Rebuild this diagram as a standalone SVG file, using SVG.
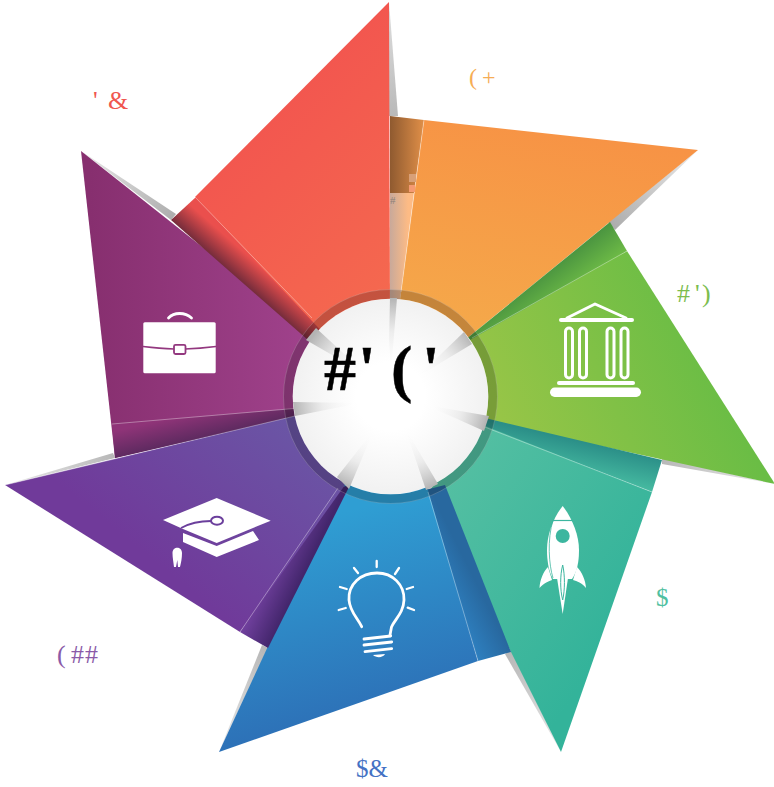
<svg xmlns="http://www.w3.org/2000/svg" width="774" height="787" viewBox="0 0 774 787">
<style>
.lbl{font-family:"Liberation Serif","Times New Roman",serif;white-space:pre}
.hl{stroke:#fff;stroke-opacity:.45;stroke-width:.8;fill:none}
.ic{fill:#fff}
.is{fill:none;stroke:#fff;stroke-linecap:round;stroke-linejoin:round}
.a{stop-color:#b4b4b4}
.m{stop-color:#e8e8e8;stop-opacity:.75}
.z{stop-color:#fff;stop-opacity:0}
</style>
<defs>
<linearGradient id="gRed" gradientUnits="userSpaceOnUse" x1="200" y1="120" x2="400" y2="330"><stop offset="0" stop-color="#f2534f"/><stop offset="1" stop-color="#f56b4f"/></linearGradient>
<linearGradient id="gOra" gradientUnits="userSpaceOnUse" x1="520" y1="120" x2="480" y2="330"><stop offset="0" stop-color="#f79345"/><stop offset="1" stop-color="#f5a84a"/></linearGradient>
<linearGradient id="gGre" gradientUnits="userSpaceOnUse" x1="700" y1="330" x2="500" y2="420"><stop offset="0" stop-color="#6abd45"/><stop offset="1" stop-color="#97c547"/></linearGradient>
<linearGradient id="gTea" gradientUnits="userSpaceOnUse" x1="450" y1="470" x2="640" y2="600"><stop offset="0" stop-color="#54bfa2"/><stop offset="1" stop-color="#33b39a"/></linearGradient>
<linearGradient id="gBlu" gradientUnits="userSpaceOnUse" x1="350" y1="510" x2="400" y2="700"><stop offset="0" stop-color="#2f9ed3"/><stop offset="1" stop-color="#2d72b8"/></linearGradient>
<linearGradient id="gInd" gradientUnits="userSpaceOnUse" x1="320" y1="430" x2="190" y2="590"><stop offset="0" stop-color="#6a57a6"/><stop offset="1" stop-color="#703a9a"/></linearGradient>
<linearGradient id="gMag" gradientUnits="userSpaceOnUse" x1="90" y1="300" x2="310" y2="300"><stop offset="0" stop-color="#872f6f"/><stop offset="1" stop-color="#a0428c"/></linearGradient>
<linearGradient id="fRed" gradientUnits="userSpaceOnUse" x1="171" y1="222" x2="192" y2="198"><stop offset="0" stop-color="#6e2a3a"/><stop offset=".8" stop-color="#ea4f4d"/></linearGradient>
<linearGradient id="fOra" gradientUnits="userSpaceOnUse" x1="390" y1="150" x2="424" y2="150"><stop offset="0" stop-color="#8f5a30"/><stop offset="1" stop-color="#e08f48"/></linearGradient>
<linearGradient id="fPea" gradientUnits="userSpaceOnUse" x1="390" y1="240" x2="408" y2="240"><stop offset="0" stop-color="#c9a99a"/><stop offset="1" stop-color="#fdbb85"/></linearGradient>
<linearGradient id="fGre" gradientUnits="userSpaceOnUse" x1="610" y1="222" x2="629" y2="247"><stop offset="0" stop-color="#4a9440"/><stop offset="1" stop-color="#6cb946"/></linearGradient>
<linearGradient id="fTea" gradientUnits="userSpaceOnUse" x1="662" y1="459" x2="655" y2="491"><stop offset="0" stop-color="#2b8f88"/><stop offset="1" stop-color="#45b9a0"/></linearGradient>
<linearGradient id="fBlu" gradientUnits="userSpaceOnUse" x1="511" y1="652" x2="481" y2="667"><stop offset="0" stop-color="#28689f"/><stop offset="1" stop-color="#2e80c0"/></linearGradient>
<linearGradient id="fInd" gradientUnits="userSpaceOnUse" x1="268" y1="648" x2="241" y2="635"><stop offset="0" stop-color="#43266c"/><stop offset="1" stop-color="#6f3f9c"/></linearGradient>
<linearGradient id="fMag" gradientUnits="userSpaceOnUse" x1="115" y1="458" x2="107" y2="424"><stop offset="0" stop-color="#5e2a60"/><stop offset=".75" stop-color="#8f3478"/></linearGradient>
<linearGradient id="e1" gradientUnits="userSpaceOnUse" x1="390" y1="2" x2="390" y2="116"><stop offset="0" stop-color="#ccc"/><stop offset="1" stop-color="#8a8a8a"/></linearGradient>
<linearGradient id="e2" gradientUnits="userSpaceOnUse" x1="698" y1="150" x2="612" y2="225"><stop offset="0" stop-color="#ddd"/><stop offset="1" stop-color="#777"/></linearGradient>
<linearGradient id="e3" gradientUnits="userSpaceOnUse" x1="775" y1="484" x2="662" y2="460"><stop offset="0" stop-color="#ddd"/><stop offset="1" stop-color="#888"/></linearGradient>
<linearGradient id="e4" gradientUnits="userSpaceOnUse" x1="561" y1="752" x2="511" y2="652"><stop offset="0" stop-color="#ddd"/><stop offset="1" stop-color="#888"/></linearGradient>
<linearGradient id="e5" gradientUnits="userSpaceOnUse" x1="219" y1="752" x2="268" y2="648"><stop offset="0" stop-color="#ddd"/><stop offset="1" stop-color="#888"/></linearGradient>
<linearGradient id="e6" gradientUnits="userSpaceOnUse" x1="5" y1="485" x2="115" y2="458"><stop offset="0" stop-color="#ddd"/><stop offset="1" stop-color="#888"/></linearGradient>
<linearGradient id="e7" gradientUnits="userSpaceOnUse" x1="81" y1="151" x2="171" y2="220"><stop offset="0" stop-color="#ddd"/><stop offset="1" stop-color="#777"/></linearGradient>
<linearGradient id="st1" gradientUnits="userSpaceOnUse" x1="390" y1="298" x2="390" y2="372"><stop offset="0" class="a"/><stop offset=".45" class="m"/><stop offset="1" class="z"/></linearGradient>
<linearGradient id="st2" gradientUnits="userSpaceOnUse" x1="470" y1="337" x2="418" y2="376"><stop offset="0" class="a"/><stop offset=".45" class="m"/><stop offset="1" class="z"/></linearGradient>
<linearGradient id="st3" gradientUnits="userSpaceOnUse" x1="486" y1="424" x2="428" y2="406"><stop offset="0" class="a"/><stop offset=".45" class="m"/><stop offset="1" class="z"/></linearGradient>
<linearGradient id="st4" gradientUnits="userSpaceOnUse" x1="433" y1="487" x2="407" y2="430"><stop offset="0" class="a"/><stop offset=".45" class="m"/><stop offset="1" class="z"/></linearGradient>
<linearGradient id="st5" gradientUnits="userSpaceOnUse" x1="345" y1="486" x2="372" y2="432"><stop offset="0" class="a"/><stop offset=".45" class="m"/><stop offset="1" class="z"/></linearGradient>
<linearGradient id="st6" gradientUnits="userSpaceOnUse" x1="294" y1="412" x2="358" y2="403"><stop offset="0" class="a"/><stop offset=".45" class="m"/><stop offset="1" class="z"/></linearGradient>
<linearGradient id="st7" gradientUnits="userSpaceOnUse" x1="313" y1="336" x2="366" y2="375"><stop offset="0" class="a"/><stop offset=".45" class="m"/><stop offset="1" class="z"/></linearGradient>
<radialGradient id="disc" gradientUnits="userSpaceOnUse" cx="390.5" cy="396.5" r="98"><stop offset=".35" stop-color="#fff"/><stop offset="1" stop-color="#f1f1f1"/></radialGradient>
</defs>

<g id="edge-shadows" opacity=".6">
<polygon points="389,2 398,116 389,116" fill="url(#e1)"/>
<polygon points="698,150 608,222 615,230" fill="url(#e2)"/>
<polygon points="775,484 662,458 662,464" fill="url(#e3)"/>
<polygon points="561,752 511,650 505,654" fill="url(#e4)"/>
<polygon points="219,752 268,648 262,645" fill="url(#e5)"/>
<polygon points="5,485 115,458 113,453" fill="url(#e6)"/>
<polygon points="81,151 171,220 176,214" fill="url(#e7)"/>
</g>

<g id="blade-magenta">
<polygon points="81,151 320,340 300,415 115,458" fill="url(#gMag)"/>
<polygon points="112,424 300,408 300,416 115,458" fill="url(#fMag)"/>
<line class="hl" x1="112" y1="424" x2="300" y2="408"/>
</g>
<g id="blade-red">
<polygon points="171,220 196,197 330,330 308,340" fill="url(#fRed)"/>
<polygon points="389,2 390,310 330,340 195,197" fill="url(#gRed)"/>
<line class="hl" x1="195" y1="197" x2="312" y2="318"/>
</g>
<g id="blade-orange">
<polygon points="390,116 424,120 414,193 390,193" fill="url(#fOra)"/>
<polygon points="390,193 414,193 400,300 390,300" fill="url(#fPea)"/>
<polygon points="424,120 698,150 465,340 400,300" fill="url(#gOra)"/>
<line class="hl" x1="424" y1="120" x2="401" y2="292"/>
<rect x="409" y="174" width="7" height="8" fill="#d8a078"/>
<rect x="409" y="185" width="6" height="7" fill="#f59a72"/>
<text class="lbl" x="390" y="204" font-size="11" fill="#8c8078">#</text>
</g>
<g id="blade-green">
<polygon points="610,222 627,251 490,340 465,340" fill="url(#fGre)"/>
<polygon points="627,251 775,484 480,420 470,340" fill="url(#gGre)"/>
<line class="hl" x1="627" y1="251" x2="472" y2="338"/>
</g>
<g id="blade-teal">
<polygon points="662,460 652,492 480,425 485,418" fill="url(#fTea)"/>
<polygon points="652,492 561,752 430,490 480,424" fill="url(#gTea)"/>
<line class="hl" x1="652" y1="492" x2="482" y2="426"/>
</g>
<g id="blade-blue">
<polygon points="511,652 478,661 425,490 445,485" fill="url(#fBlu)"/>
<polygon points="478,661 219,752 345,480 425,480" fill="url(#gBlu)"/>
<line class="hl" x1="478" y1="661" x2="428" y2="492"/>
</g>
<g id="blade-indigo">
<polygon points="268,648 240,632 330,490 350,485" fill="url(#fInd)"/>
<polygon points="5,485 295,416 345,485 240,632" fill="url(#gInd)"/>
<line class="hl" x1="240" y1="632" x2="338" y2="488"/>
<line class="hl" x1="5" y1="485" x2="295" y2="416"/>
</g>

<g id="center">
<circle cx="390.5" cy="396.5" r="102.5" fill="none" stroke="#000" stroke-opacity=".2" stroke-width="9.500"/>
<circle cx="390.5" cy="396.5" r="107" fill="none" stroke="#fff" stroke-opacity=".3" stroke-width=".6"/>
<circle cx="390.5" cy="396.5" r="97.8" fill="url(#disc)"/>
<polygon points="390,298 397,298 391,372 389,340" fill="url(#st1)"/>
<polygon points="464,332 472,344 417,377" fill="url(#st2)"/>
<polygon points="489,416 484,431 426,405" fill="url(#st3)"/>
<polygon points="426,490 438,484 405,428" fill="url(#st4)"/>
<polygon points="337,477 349,489 374,430" fill="url(#st5)"/>
<polygon points="293,402 295,416 361,403" fill="url(#st6)"/>
<polygon points="306,340 316,328 367,375" fill="url(#st7)"/>
<text class="lbl" x="324 358 378 391 410 422" y="390" font-size="64" font-weight="bold" fill="#000" stroke="#000" stroke-width=".5">#' ( '</text>
</g>

<g id="icon-bank">
<polyline class="is" points="567,318 595,304 626,318" stroke-width="3"/>
<line class="is" x1="561" y1="320" x2="632" y2="320" stroke-width="4"/>
<rect class="is" x="565.5" y="328" width="7" height="50" rx="3.5" stroke-width="3"/>
<rect class="is" x="579.5" y="328" width="7" height="50" rx="3.5" stroke-width="3"/>
<rect class="is" x="607" y="328" width="7" height="50" rx="3.5" stroke-width="3"/>
<rect class="is" x="621" y="328" width="7" height="50" rx="3.5" stroke-width="3"/>
<line class="is" x1="559" y1="383" x2="633" y2="383" stroke-width="4"/>
<rect class="ic" x="550" y="387.500" width="91" height="9.500" rx="4.700"/>
</g>
<g id="icon-rocket">
<path class="ic" d="M562.700,506C553,518 547,535 547,550C547,562 549,572 553,579L572,579C577,572 579,562 579,550C579,535 572,518 562.700,506Z"/>
<path class="ic" d="M548,567C543,572 540,580 539.500,588C544,583 549,581 552,580ZM577,567C582,572 585.500,580 586,588C582,583 577,581 573,580Z"/>
<path class="ic" d="M557,578L562.700,614L568,578Z"/>
<line x1="553" y1="520.500" x2="573" y2="520.500" stroke="#3cb69f" stroke-width="1.200"/>
<circle cx="562.700" cy="536" r="7" fill="#3cb69f"/>
<path d="M553,520C547,540 549,565 553,578" fill="none" stroke="#3cb69f" stroke-width=".8"/>
<path d="M562.700,565C560,575 560,590 562.700,600C565,590 565,575 562.700,565Z" fill="none" stroke="#3cb69f" stroke-width="1"/>
</g>
<g id="icon-bulb">
<path class="is" d="M361.700,626.700C357,617 350,612 349,600C348,584 361,573 377,573C393,573 404.500,585 404,600C403.500,613 395,619 391.500,627L390,635" stroke-width="2.800"/>
<path class="is" d="M364,639L390.700,636M364,645L391.700,642M365,651.700L391.700,648.700" stroke-width="2.800"/>
<path class="ic" d="M373,655L385,654C383,658 376,658 373,655Z"/>
<path class="is" d="M376.700,561V567M354,568L358,573M399,568L395,574M340,587L346.700,589M413,587L406.700,589M338.700,610L345.700,608M414,610L407.700,607.700" stroke-width="2.300"/>
</g>
<g id="icon-cap">
<polygon class="ic" points="163,520 216.700,498 270.700,520.700 216.700,543 183,529"/>
<polygon class="ic" points="183,533 216.700,546 253,531 259,540 216.700,557 183,542"/>
<ellipse cx="217" cy="520.700" rx="6" ry="4" fill="#fff" stroke="#6b3f9c" stroke-width="2"/>
<path d="M211,521C200,521 190,523 181,528" fill="none" stroke="#6b3f9c" stroke-width="1.800"/>
<path class="ic" d="M172.500,553C172.500,546 182,546 182,553C182,558 181,563 180,567L178,567L177.300,560L176,567L174,567C173.500,562 172.500,558 172.500,553Z"/>
</g>
<g id="icon-briefcase">
<rect class="ic" x="143.300" y="322.300" width="72.400" height="51" rx="1.500"/>
<path class="is" d="M168.500,318C174,312 185,312 191.500,318" stroke-width="2.800"/>
<path d="M143,346.500Q160,348.500 174,349M185,349Q200,348.500 216,346.500" fill="none" stroke="#93387f" stroke-width="1.500"/>
<rect x="174" y="344.800" width="11.500" height="9.200" rx="1.500" fill="#fff" stroke="#93387f" stroke-width="1.800"/>
</g>

<g id="labels">
<text class="lbl" x="93 100 108" y="109" font-size="26" fill="#f0564f">' &amp;</text>
<text class="lbl" x="469 478 482" y="85" font-size="24" fill="#f6ad55">( +</text>
<text class="lbl" x="677 695 700 702" y="302" font-size="26" fill="#7cbd4e">#' )</text>
<text class="lbl" x="656" y="606" font-size="25" fill="#4fc0a0">$</text>
<text class="lbl" x="356" y="777" font-size="25" fill="#4472c4">$&amp;</text>
<text class="lbl" x="57 66 71 85" y="663" font-size="26" fill="#8a5aa8">( ##</text>
</g>
</svg>
